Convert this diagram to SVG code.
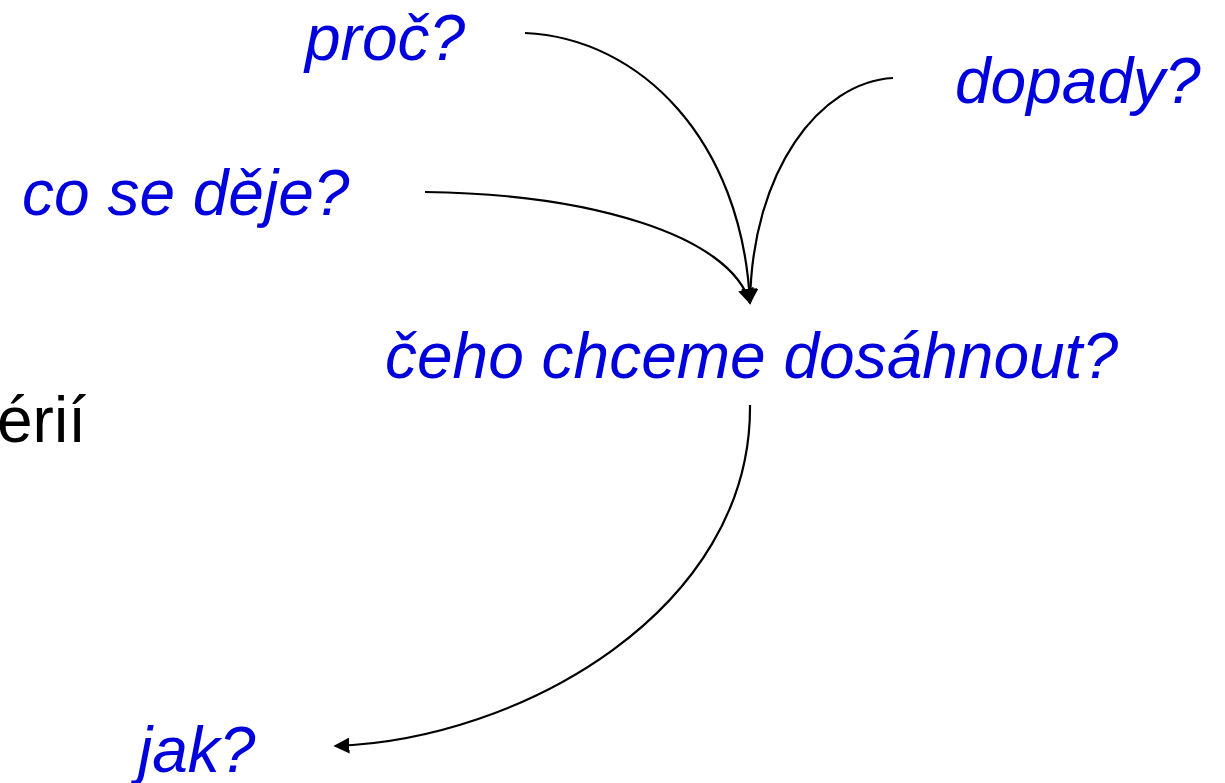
<svg xmlns="http://www.w3.org/2000/svg" width="1225" height="783" viewBox="0 0 1225 783">
<style>
.q{font-family:"Liberation Sans",Arial,sans-serif;font-style:italic;font-size:64px;fill:#0000dd}
.b{font-family:"Liberation Sans",Arial,sans-serif;font-size:64px;fill:#000}
.c{fill:none;stroke:#000;stroke-width:2.2}
</style>
<defs>
<marker id="ah2" viewBox="0 0 10 10" refX="9" refY="5" markerWidth="16" markerHeight="16" markerUnits="userSpaceOnUse" orient="auto">
<path d="M0,0 L10,5 L0,10 z" fill="#000"/>
</marker>
</defs>
<text class="b" x="-3" y="442">érií</text>
<g id="proc"><text class="q" x="305" y="60">proč?</text></g>
<g id="dopady"><text class="q" x="955" y="103">dopady?</text></g>
<g id="co"><text class="q" x="22" y="215">co se děje?</text></g>
<g id="ceho"><text class="q" x="385" y="378">čeho chceme dosáhnout?</text></g>
<g id="jak"><text class="q" x="138" y="772">jak?</text></g>
<g id="connectors">
<path class="c" d="M525,33 C640,38 742,140 750,303" marker-end="url(#ah2)"/>
<path class="c" d="M893,78 C820,82 752,170 750,303" marker-end="url(#ah2)"/>
<path class="c" d="M425,192 C590,194 730,235 750,303" marker-end="url(#ah2)"/>
<path class="c" d="M750,405 C752,610 520,740 335,746" marker-end="url(#ah2)"/>
</g>
</svg>
